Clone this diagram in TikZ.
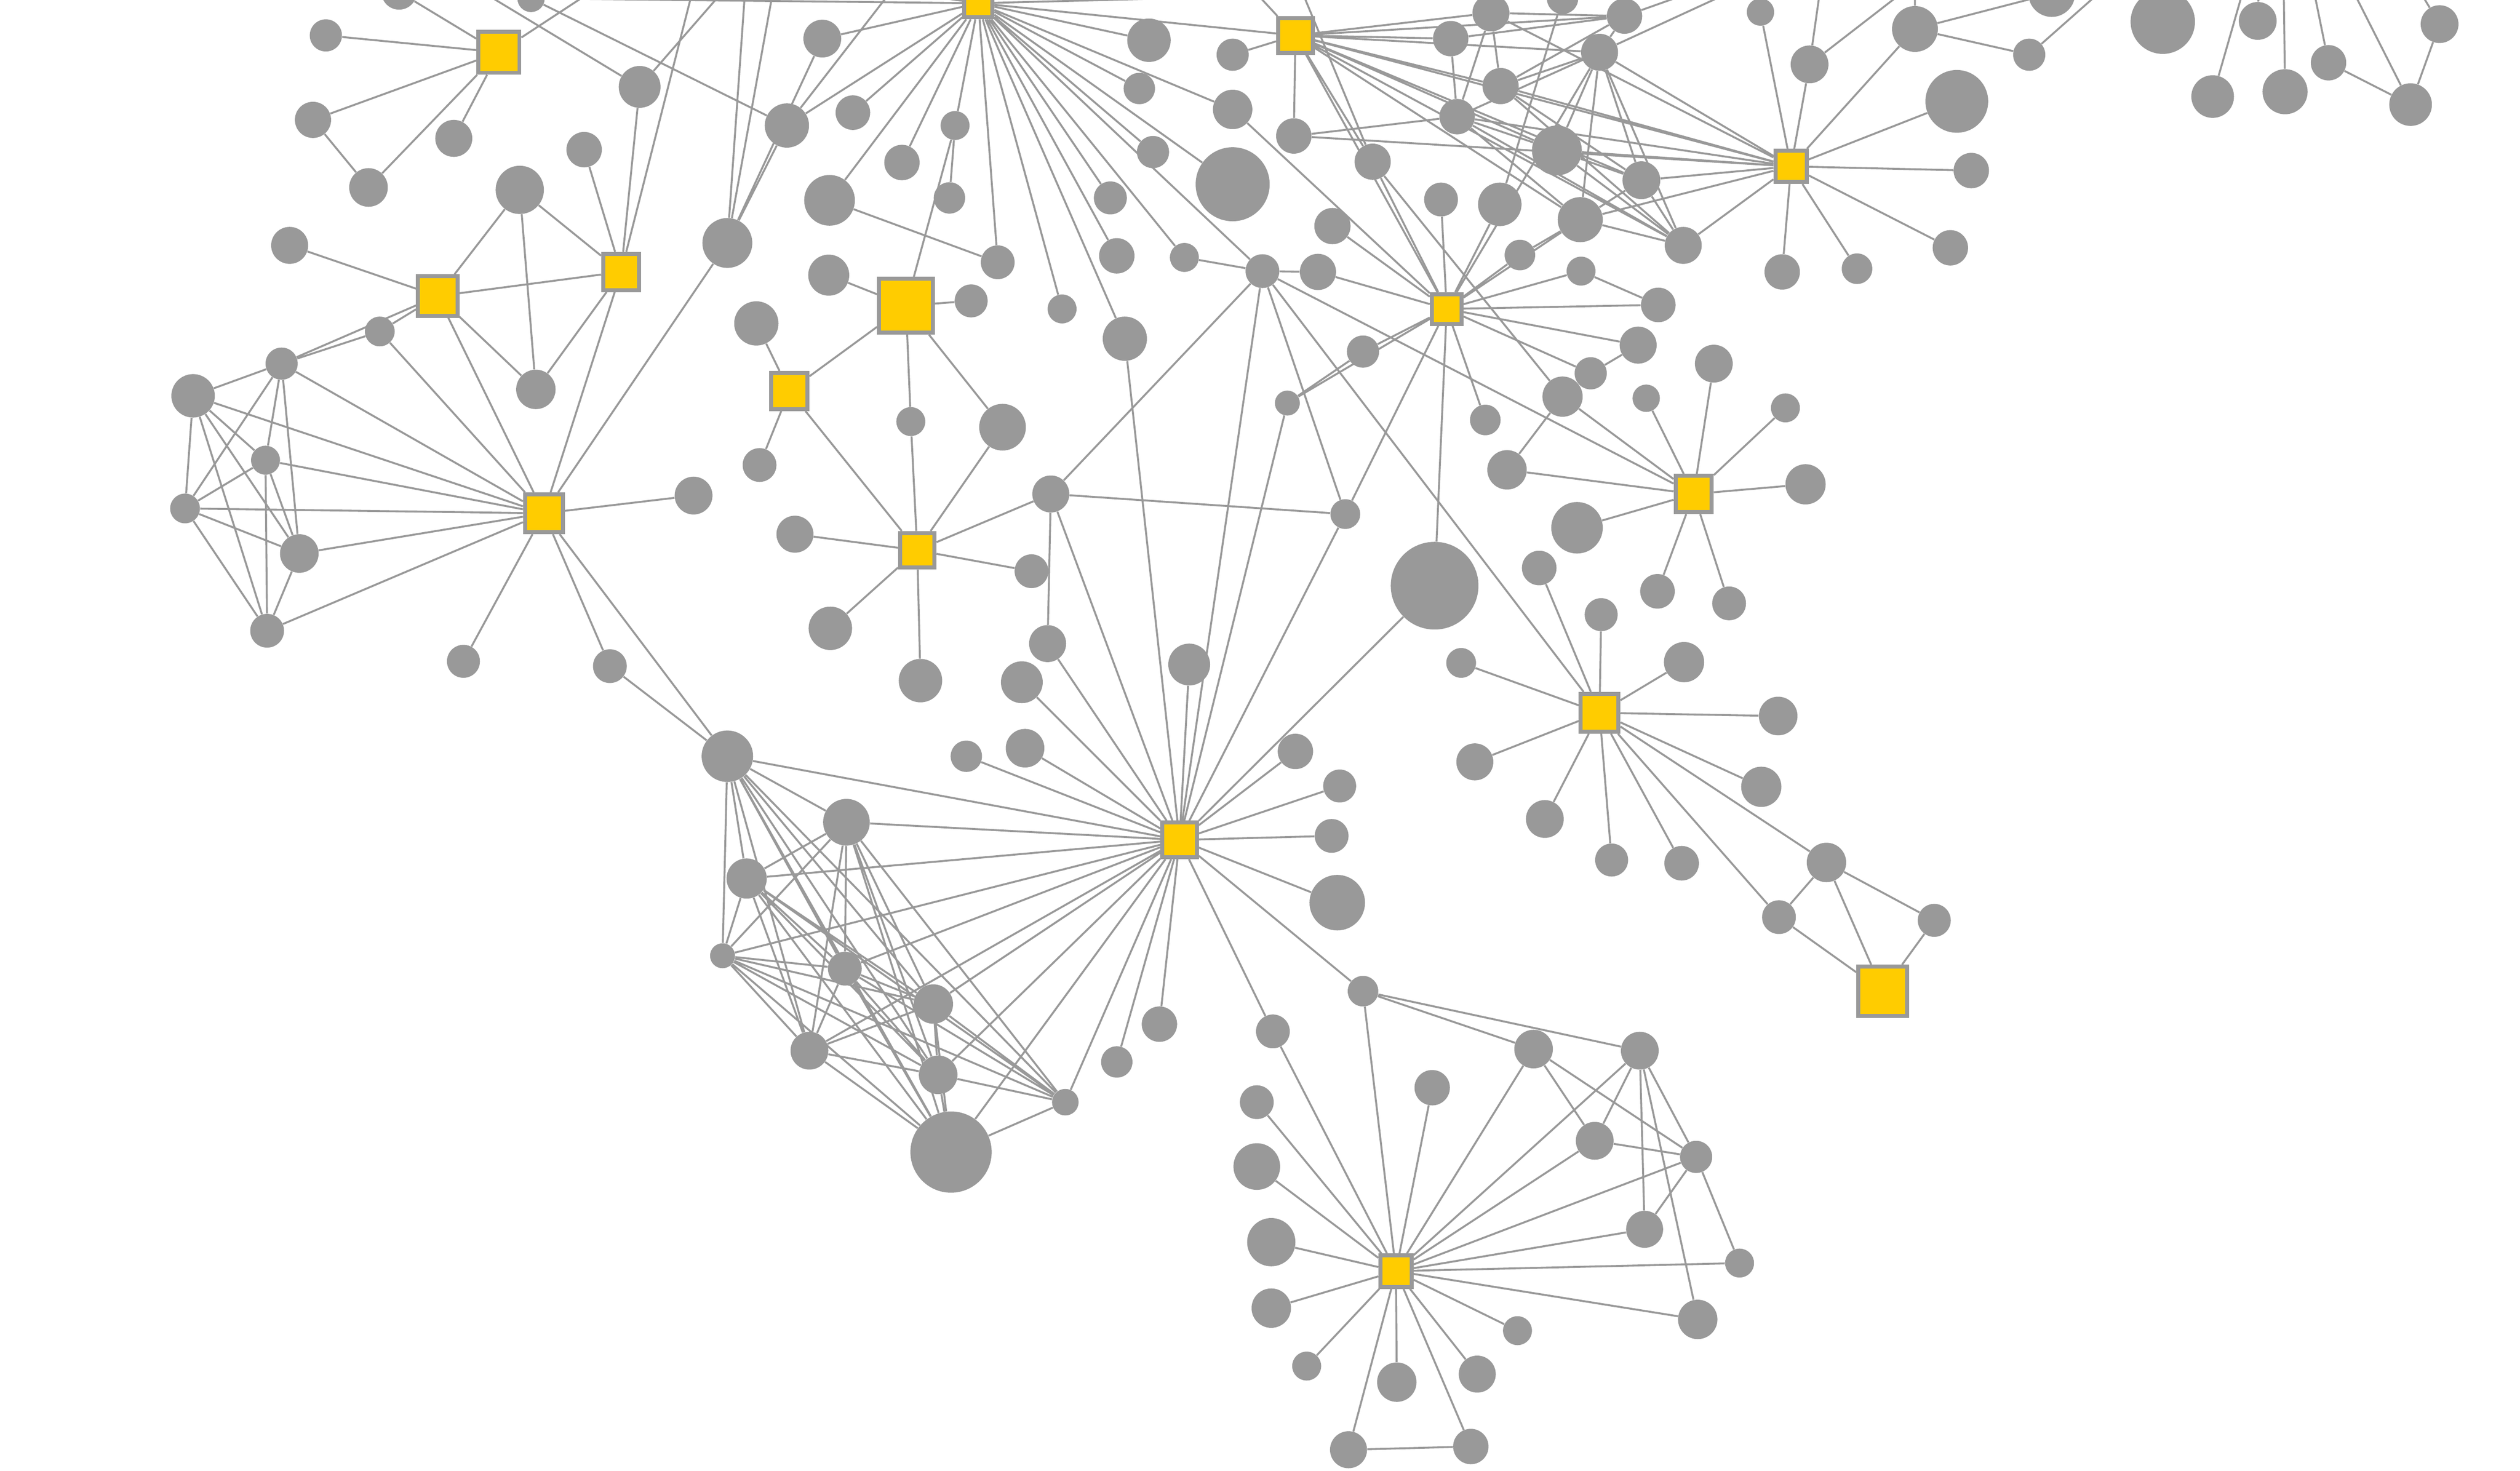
\documentclass[tikz,border=0pt]{standalone}
\usepackage{tikz}
\usetikzlibrary{shapes,positioning}
\definecolor{nodegray}{HTML}{999999}
\definecolor{hubyellow}{HTML}{FFCC00}
\pgfdeclarelayer{background}
\pgfsetlayers{background,main}
\tikzstyle{hub} = [rectangle, draw = nodegray, line width = 2.5pt, fill = hubyellow, inner sep = 0pt]
\tikzstyle{leaf} = [circle, fill = nodegray, inner sep = 0pt]
\tikzstyle{conn} = [draw = nodegray, line width = 1.2pt]
\begin{document}
\begin{tikzpicture}[x = 1pt, y = -1pt]
	
		\useasboundingbox (0,0) rectangle (1566,914);
		
		% Hubs
		\node[hub, minimum size = 25.5pt] (h1) at (310,32.5) {};
		\node[hub, minimum size = 17.5pt] (h2) at (608,2) {};
		\node[hub, minimum size = 21.5pt] (h3) at (805,22) {};
		\node[hub, minimum size = 19.5pt] (h4) at (1113,103.4) {};
		\node[hub, minimum size = 24.5pt] (h5) at (272,184) {};
		\node[hub, minimum size = 22.5pt] (h6) at (386,169) {};
		\node[hub, minimum size = 33.5pt] (h7) at (563,190) {};
		\node[hub, minimum size = 22.5pt] (h8) at (490.5,243) {};
		\node[hub, minimum size = 18.5pt] (h9) at (899,192) {};
		\node[hub, minimum size = 23.5pt] (h10) at (338,319) {};
		\node[hub, minimum size = 21.5pt] (h11) at (570,342) {};
		\node[hub, minimum size = 22.5pt] (h12) at (1052.5,307) {};
		\node[hub, minimum size = 23.5pt] (h13) at (994,443) {};
		\node[hub, minimum size = 21.5pt] (h14) at (733,522) {};
		\node[hub, minimum size = 30.5pt] (h15) at (1170,616) {};
		\node[hub, minimum size = 19.5pt] (h16) at (867.5,790) {};
		
		% Top left
		\node[leaf, minimum size = 22pt] (a1) at (248,-5) {};
		\node[leaf, minimum size = 20pt] (a2) at (202.5,22) {};
		\node[leaf, minimum size = 17pt] (a3) at (330,-1) {};
		\node[leaf, minimum size = 22.5pt] (a4) at (194.5,74.5) {};
		\node[leaf, minimum size = 23pt] (a5) at (282,86) {};
		\node[leaf, minimum size = 24pt] (a6) at (229,116.5) {};
		\node[leaf, minimum size = 26pt] (a7) at (397.5,54) {};
		\node[leaf, minimum size = 27.5pt] (a8) at (489,78) {};
		\node[leaf, minimum size = 23.5pt] (a9) at (511,24) {};
		\node[leaf, minimum size = 21.5pt] (a10) at (530,70) {};
		\node[leaf, minimum size = 22pt] (a11) at (363,93) {};
		\node[leaf, minimum size = 30pt] (a12) at (323,118) {};
		\node[leaf, minimum size = 23pt] (a13) at (180,152.5) {};
		\node[leaf, minimum size = 31pt] (a14) at (452,151) {};
		\node[leaf, minimum size = 18.5pt] (a15) at (236,206) {};
		\node[leaf, minimum size = 20pt] (a16) at (175,226) {};
		\node[leaf, minimum size = 27pt] (a17) at (120,246) {};
		\node[leaf, minimum size = 24.5pt] (a18) at (333,242) {};
		\node[leaf, minimum size = 18pt] (a19) at (165,286) {};
		\node[leaf, minimum size = 18.5pt] (a20) at (115,316) {};
		\node[leaf, minimum size = 24pt] (a21) at (186,344) {};
		\node[leaf, minimum size = 21pt] (a22) at (166,392) {};
		\node[leaf, minimum size = 23.5pt] (a23) at (431,308) {};
		\node[leaf, minimum size = 20.5pt] (a24) at (288,411) {};
		\node[leaf, minimum size = 21pt] (a25) at (379,414) {};
		
		% Top middle
		\node[leaf, minimum size = 27pt] (b1) at (714,25) {};
		\node[leaf, minimum size = 19.5pt] (b2) at (708,55) {};
		\node[leaf, minimum size = 20pt] (b3) at (766,34) {};
		\node[leaf, minimum size = 24.5pt] (b4) at (766,68) {};
		\node[leaf, minimum size = 18pt] (b5) at (593.5,78) {};
		\node[leaf, minimum size = 22pt] (b6) at (560.5,101) {};
		\node[leaf, minimum size = 20pt] (b7) at (716.5,94.5) {};
		\node[leaf, minimum size = 31.5pt] (b8) at (515.5,124.5) {};
		\node[leaf, minimum size = 19.5pt] (b9) at (590,123) {};
		\node[leaf, minimum size = 46pt] (b10) at (766,114.5) {};
		\node[leaf, minimum size = 20.5pt] (b11) at (690,123) {};
		\node[leaf, minimum size = 21pt] (b12) at (620,163) {};
		\node[leaf, minimum size = 22pt] (b13) at (694,159) {};
		\node[leaf, minimum size = 18pt] (b14) at (736,160) {};
		\node[leaf, minimum size = 25.5pt] (b15) at (515,171) {};
		\node[leaf, minimum size = 20.5pt] (b16) at (603.5,187) {};
		\node[leaf, minimum size = 18pt] (b17) at (660,192) {};
		\node[leaf, minimum size = 27.5pt] (b18) at (470,201) {};
		\node[leaf, minimum size = 27.5pt] (b19) at (699,210.5) {};
		\node[leaf, minimum size = 21pt] (b20) at (784.5,168.5) {};
		\node[leaf, minimum size = 21pt] (b21) at (472,289) {};
		\node[leaf, minimum size = 18pt] (b22) at (566,262) {};
		\node[leaf, minimum size = 29pt] (b23) at (623,265.5) {};
		\node[leaf, minimum size = 23pt] (b24) at (494,332) {};
		\node[leaf, minimum size = 27pt] (b25) at (516,390.5) {};
		\node[leaf, minimum size = 27pt] (b26) at (572,423) {};
		\node[leaf, minimum size = 21pt] (b27) at (641,355) {};
		\node[leaf, minimum size = 23pt] (b28) at (653,307) {};
		\node[leaf, minimum size = 23pt] (b29) at (651,400) {};
		\node[leaf, minimum size = 26pt] (b30) at (635,424) {};
		\node[leaf, minimum size = 26pt] (b31) at (739,413) {};
		\node[leaf, minimum size = 24pt] (b32) at (637,465) {};
		\node[leaf, minimum size = 19.5pt] (b33) at (600.5,470) {};
		
		% Top right
		\node[leaf, minimum size = 22.5pt] (c1) at (853,100.5) {};
		\node[leaf, minimum size = 22.5pt] (c2) at (828,140.5) {};
		\node[leaf, minimum size = 22.5pt] (c3) at (819,169) {};
		\node[leaf, minimum size = 21pt] (c4) at (895.5,124) {};
		\node[leaf, minimum size = 27pt] (c5) at (932,127) {};
		\node[leaf, minimum size = 22pt] (c6) at (804,84.5) {};
		\node[leaf, minimum size = 22pt] (c7) at (905.5,72.5) {};
		\node[leaf, minimum size = 22.5pt] (c8) at (932.5,53.5) {};
		\node[leaf, minimum size = 22pt] (c9) at (901.5,24) {};
		\node[leaf, minimum size = 23pt] (c10) at (926.5,8) {};
		\node[leaf, minimum size = 19.5pt] (c11) at (971,-1) {};
		\node[leaf, minimum size = 22pt] (c12) at (1009.5,10) {};
		\node[leaf, minimum size = 23pt] (c13) at (994,32.5) {};
		\node[leaf, minimum size = 31pt] (c14) at (967.5,93.5) {};
		\node[leaf, minimum size = 23.5pt] (c15) at (1020,112) {};
		\node[leaf, minimum size = 28pt] (c16) at (982,136.5) {};
		\node[leaf, minimum size = 23pt] (c17) at (1046,152.5) {};
		\node[leaf, minimum size = 19pt] (c18) at (944.5,158.5) {};
		\node[leaf, minimum size = 18pt] (c19) at (982.5,168.5) {};
		\node[leaf, minimum size = 21.5pt] (c20) at (1030.5,189.5) {};
		\node[leaf, minimum size = 23pt] (c21) at (1018,214.5) {};
		\node[leaf, minimum size = 20pt] (c22) at (988.5,232) {};
		\node[leaf, minimum size = 25pt] (c23) at (971,246.5) {};
		\node[leaf, minimum size = 17pt] (c24) at (1023,247.5) {};
		\node[leaf, minimum size = 20pt] (c25) at (847,218.5) {};
		\node[leaf, minimum size = 15.5pt] (c26) at (800,250.5) {};
		\node[leaf, minimum size = 19pt] (c27) at (923,261) {};
		\node[leaf, minimum size = 24.5pt] (c28) at (936.5,292) {};
		\node[leaf, minimum size = 18.5pt] (c29) at (836,319.5) {};
		\node[leaf, minimum size = 54.5pt] (c30) at (891.5,364) {};
		\node[leaf, minimum size = 32pt] (c31) at (980,328) {};
		\node[leaf, minimum size = 21.5pt] (c32) at (956.5,353) {};
		\node[leaf, minimum size = 21.5pt] (c33) at (1030,367.5) {};
		\node[leaf, minimum size = 21pt] (c34) at (1074.5,375) {};
		\node[leaf, minimum size = 23.5pt] (c35) at (1065,226) {};
		\node[leaf, minimum size = 18pt] (c36) at (1109.5,253.5) {};
		\node[leaf, minimum size = 25pt] (c37) at (1122,301) {};
		\node[leaf, minimum size = 23.5pt] (c38) at (1124.5,40) {};
		\node[leaf, minimum size = 17pt] (c39) at (1094,7.5) {};
		\node[leaf, minimum size = 28.5pt] (c40) at (1190,18) {};
		\node[leaf, minimum size = 20pt] (c41) at (1261,34) {};
		\node[leaf, minimum size = 39pt] (c42) at (1216,63) {};
		\node[leaf, minimum size = 22pt] (c43) at (1225,106) {};
		\node[leaf, minimum size = 22pt] (c44) at (1107.5,169) {};
		\node[leaf, minimum size = 19pt] (c45) at (1154,167) {};
		\node[leaf, minimum size = 22pt] (c46) at (1212,154) {};
		\node[leaf, minimum size = 29pt] (c47) at (1275,-4) {};
		\node[leaf, minimum size = 40pt] (c48) at (1344,13.5) {};
		\node[leaf, minimum size = 23.5pt] (c49) at (1403,13) {};
		\node[leaf, minimum size = 26.5pt] (c50) at (1375,60) {};
		\node[leaf, minimum size = 28pt] (c51) at (1420,57) {};
		\node[leaf, minimum size = 22pt] (c52) at (1447,39) {};
		\node[leaf, minimum size = 26.5pt] (c53) at (1498,65) {};
		\node[leaf, minimum size = 23.5pt] (c54) at (1516,15) {};
		
		% Middle right
		\node[leaf, minimum size = 20.5pt] (d1) at (995,382) {};
		\node[leaf, minimum size = 18.5pt] (d2) at (908,412) {};
		\node[leaf, minimum size = 25pt] (d3) at (1046.5,411.5) {};
		\node[leaf, minimum size = 24pt] (d4) at (1105,445) {};
		\node[leaf, minimum size = 23pt] (d5) at (916.5,473.5) {};
		\node[leaf, minimum size = 25pt] (d6) at (1094.5,489) {};
		\node[leaf, minimum size = 23.5pt] (d7) at (960,509) {};
		\node[leaf, minimum size = 20.5pt] (d8) at (1001.5,534.5) {};
		\node[leaf, minimum size = 21.5pt] (d9) at (1045,536.5) {};
		\node[leaf, minimum size = 24.5pt] (d10) at (1135,536) {};
		\node[leaf, minimum size = 21pt] (d11) at (1105.5,570) {};
		\node[leaf, minimum size = 20.5pt] (d12) at (1202,572) {};
		
		% Middle
		\node[leaf, minimum size = 22pt] (e1) at (805,467) {};
		\node[leaf, minimum size = 20.5pt] (e2) at (832.5,488.5) {};
		\node[leaf, minimum size = 21pt] (e3) at (827.5,519.5) {};
		\node[leaf, minimum size = 34.5pt] (e4) at (831,561) {};
		\node[leaf, minimum size = 19pt] (e5) at (847,616) {};
		\node[leaf, minimum size = 21pt] (e6) at (791,641) {};
		\node[leaf, minimum size = 22pt] (e7) at (720.5,636.5) {};
		\node[leaf, minimum size = 19.5pt] (e8) at (694,660) {};
		
		% Lower left cluster
		\node[leaf, minimum size = 32pt] (f1) at (452,470) {};
		\node[leaf, minimum size = 29pt] (f2) at (526,511) {};
		\node[leaf, minimum size = 25pt] (f3) at (464,546) {};
		\node[leaf, minimum size = 15.5pt] (f4) at (449,594) {};
		\node[leaf, minimum size = 21pt] (f5) at (525,602) {};
		\node[leaf, minimum size = 24.5pt] (f6) at (580,624) {};
		\node[leaf, minimum size = 23.5pt] (f7) at (503,653) {};
		\node[leaf, minimum size = 24pt] (f8) at (583,668) {};
		\node[leaf, minimum size = 16.5pt] (f9) at (662,685) {};
		\node[leaf, minimum size = 50.5pt] (f10) at (591,716) {};
		
		% Bottom
		\node[leaf, minimum size = 24pt] (g1) at (953,652) {};
		\node[leaf, minimum size = 23.5pt] (g2) at (1019,653) {};
		\node[leaf, minimum size = 23.5pt] (g3) at (991,709) {};
		\node[leaf, minimum size = 20pt] (g4) at (1054,719) {};
		\node[leaf, minimum size = 22pt] (g5) at (890,676) {};
		\node[leaf, minimum size = 21pt] (g6) at (781,685) {};
		\node[leaf, minimum size = 29pt] (g7) at (781,725) {};
		\node[leaf, minimum size = 30pt] (g8) at (790,772) {};
		\node[leaf, minimum size = 23pt] (g9) at (1022,764) {};
		\node[leaf, minimum size = 18pt] (g10) at (1081,785) {};
		\node[leaf, minimum size = 24.5pt] (g11) at (790,813) {};
		\node[leaf, minimum size = 24.5pt] (g12) at (1055,820) {};
		\node[leaf, minimum size = 18pt] (g13) at (812,849) {};
		\node[leaf, minimum size = 18pt] (g14) at (943,827) {};
		\node[leaf, minimum size = 24.5pt] (g15) at (868,859) {};
		\node[leaf, minimum size = 23pt] (g16) at (918,854) {};
		\node[leaf, minimum size = 23pt] (g17) at (838,901) {};
		\node[leaf, minimum size = 22pt] (g18) at (914,899) {};
		
		% Links leaving the top edge
		\coordinate (t1) at (390,-20);
		\coordinate (t2) at (275,-20);
		\coordinate (t3) at (462,-20);
		\coordinate (t4) at (434,-20);
		\coordinate (t5) at (464,-20);
		\coordinate (t6) at (483,-20);
		\coordinate (t7) at (565,-20);
		\coordinate (t8) at (540,-8);
		\coordinate (t9) at (1000,-8);
		\coordinate (t10) at (766,-20);
		\coordinate (t11) at (803,-20);
		\coordinate (t12) at (1108,-20);
		\coordinate (t13) at (1094,-20);
		\coordinate (t14) at (1133,-20);
		\coordinate (t15) at (1202,-20);
		\coordinate (t16) at (1094,-20);
		\coordinate (t17) at (1190,-25);
		\coordinate (t18) at (1322,-20);
		\coordinate (t19) at (1398,-20);
		\coordinate (t20) at (1419,-20);
		\coordinate (t21) at (1435,-20);
		\coordinate (t22) at (1455,-20);
		\coordinate (t23) at (1495,-20);
		\coordinate (t24) at (1404,-20);
		
		\begin{pgfonlayer}{background}
		\fill[white] (0,0) rectangle (1566,914);
		
		% Top left links
		\draw[conn] (h1) -- (a1) (h1) -- (a2) (h1) -- (a4) (h1) -- (a5) (h1) -- (a6) (h1) -- (t1) (a4) -- (a6)
		(a3) -- (h2) (a3) -- (a8) (a7) -- (h6) (a7) -- (t2) (a7) -- (t3)
		(h6) -- (a11) (h6) -- (a12) (h6) -- (h5) (h6) -- (a18) (h6) -- (h10) (h6) -- (t4)
		(h5) -- (a13) (h5) -- (a12) (h5) -- (a15) (h5) -- (a18) (h5) -- (h10) (h5) -- (a16)
		(a12) -- (a18) (a15) -- (a16) (a15) -- (h10);
		\draw[conn] (a17) -- (a16) (a17) -- (h10) (a17) -- (a20) (a17) -- (a19) (a17) -- (a21) (a17) -- (a22)
		(a16) -- (h10) (a16) -- (a20) (a16) -- (a19) (a16) -- (a21)
		(a19) -- (h10) (a19) -- (a20) (a19) -- (a22) (a19) -- (a21)
		(a20) -- (h10) (a20) -- (a21) (a20) -- (a22) (a21) -- (h10) (a21) -- (a22) (a22) -- (h10);
		\draw[conn] (h10) -- (a23) (h10) -- (a24) (h10) -- (a25) (h10) -- (f1) (h10) -- (a14) (a25) -- (f1)
		(a14) -- (t5) (a14) -- (t6) (a14) -- (a8) (a14) -- (a9)
		(a8) -- (h2) (a8) -- (t7) (a9) -- (h2) (a10) -- (h2);
		
		% Top middle links
		\draw[conn] (h2) -- (b5) (h2) -- (b6) (h2) -- (b8) (h2) -- (b12) (h2) -- (b17) (h2) -- (b19) (h2) -- (b13)
		(h2) -- (b11) (h2) -- (b14) (h2) -- (b7) (h2) -- (b20) (h2) -- (b2) (h2) -- (b4) (h2) -- (b10)
		(h2) -- (b1) (h2) -- (h3) (h2) -- (t8) (h2) -- (t9)
		(b5) -- (b9) (b5) -- (h7) (b8) -- (b12) (b3) -- (h3) (b14) -- (b20)
		(h7) -- (b15) (h7) -- (b16) (h7) -- (h8) (h7) -- (b22) (h7) -- (b23)
		(h8) -- (b18) (h8) -- (b21) (h8) -- (h11)
		(h11) -- (b22) (h11) -- (b23) (h11) -- (b28) (h11) -- (b24) (h11) -- (b25) (h11) -- (b26) (h11) -- (b27)
		(b28) -- (b20) (b28) -- (c29) (b28) -- (b29) (b28) -- (h14) (b19) -- (h14);
		\draw[conn] (h14) -- (b20) (h14) -- (b29) (h14) -- (b30) (h14) -- (b31) (h14) -- (b32) (h14) -- (b33)
		(h14) -- (c26) (h14) -- (c29) (h14) -- (c30) (h14) -- (e1) (h14) -- (e2) (h14) -- (e3) (h14) -- (e4)
		(h14) -- (e5) (h14) -- (e6) (h14) -- (e7) (h14) -- (e8);
		
		% Lower left cluster links
		\draw[conn] (h14) -- (f1) (h14) -- (f2) (h14) -- (f3) (h14) -- (f4) (h14) -- (f5) (h14) -- (f6) (h14) -- (f7)
		(h14) -- (f8) (h14) -- (f9) (h14) -- (f10)
		(f1) -- (f2) (f1) -- (f3) (f1) -- (f4) (f1) -- (f5) (f1) -- (f6) (f1) -- (f7) (f1) -- (f8) (f1) -- (f9) (f1) -- (f10)
		(f2) -- (f3) (f2) -- (f4) (f2) -- (f5) (f2) -- (f7) (f2) -- (f8) (f2) -- (f6) (f2) -- (f10) (f2) -- (f9)
		(f3) -- (f4) (f3) -- (f7) (f3) -- (f6) (f3) -- (f5) (f3) -- (f8) (f3) -- (f10) (f3) -- (f9)
		(f4) -- (f5) (f4) -- (f6) (f4) -- (f7) (f4) -- (f8) (f4) -- (f10) (f4) -- (f9)
		(f5) -- (f7) (f5) -- (f6) (f5) -- (f8) (f5) -- (f9) (f5) -- (f10)
		(f6) -- (f7) (f6) -- (f8) (f6) -- (f9) (f6) -- (f10)
		(f7) -- (f8) (f7) -- (f10) (f8) -- (f9) (f8) -- (f10) (f9) -- (f10);
		
		% Top right links
		\draw[conn] (h3) -- (c6) (h3) -- (c9) (h3) -- (c10) (h3) -- (c12) (h3) -- (c13) (h3) -- (c8) (h3) -- (c14)
		(h3) -- (c15) (h3) -- (h4) (h3) -- (c16) (h3) -- (c17) (h3) -- (c1) (h3) -- (h9) (h3) -- (t10)
		(c9) -- (c12) (c9) -- (c7) (c10) -- (c7) (c10) -- (c8) (c10) -- (c12) (c10) -- (h4) (c11) -- (c5)
		(c12) -- (c8) (c12) -- (c13) (c12) -- (t13) (c13) -- (t12)
		(c13) -- (c8) (c13) -- (c7) (c13) -- (c14) (c13) -- (c16) (c13) -- (c15) (c13) -- (c17) (c13) -- (h4)
		(c8) -- (h4) (c8) -- (c15) (c8) -- (c17)
		(c7) -- (c14) (c7) -- (c16) (c7) -- (c17) (c7) -- (c6) (c7) -- (h4) (c6) -- (h4)
		(c14) -- (h4) (c14) -- (c15) (c14) -- (c17) (c15) -- (h4) (c15) -- (c16) (c15) -- (c17)
		(c16) -- (h4) (c16) -- (c17) (c17) -- (h4);
		\draw[conn] (c1) -- (h9) (c1) -- (c23) (c1) -- (t11)
		(h9) -- (c4) (h9) -- (c5) (h9) -- (c2) (h9) -- (c3) (h9) -- (b4) (h9) -- (c18) (h9) -- (c19) (h9) -- (c20)
		(h9) -- (c21) (h9) -- (c22) (h9) -- (c25) (h9) -- (c26) (h9) -- (c29) (h9) -- (c30) (h9) -- (c27)
		(h9) -- (c13) (h9) -- (c16) (b20) -- (c3) (c18) -- (c16)
		(c19) -- (c20) (c21) -- (c22) (c25) -- (c26)
		(c23) -- (c28) (c23) -- (h12) (b20) -- (h12) (b20) -- (h13) (b20) -- (c29) (c28) -- (h12)
		(h12) -- (c35) (h12) -- (c24) (h12) -- (c36) (h12) -- (c37) (h12) -- (c31) (h12) -- (c33) (h12) -- (c34);
		\draw[conn] (h4) -- (c39) (h4) -- (c38) (h4) -- (c44) (h4) -- (c45) (h4) -- (c46) (h4) -- (c43) (h4) -- (c42) (h4) -- (c40)
		(c38) -- (t14) (c38) -- (t15) (c39) -- (t16)
		(c40) -- (c41) (c40) -- (c47) (c40) -- (t17) (c41) -- (t18)
		(c50) -- (t19) (c51) -- (t20) (c52) -- (t21) (c52) -- (c53) (c53) -- (t22) (c53) -- (c54) (c54) -- (t23) (c49) -- (t24);
		
		% Middle right links
		\draw[conn] (c32) -- (h13) (h13) -- (d1) (h13) -- (d2) (h13) -- (d3) (h13) -- (d4) (h13) -- (d5) (h13) -- (d6)
		(h13) -- (d7) (h13) -- (d8) (h13) -- (d9) (h13) -- (d10) (h13) -- (d11)
		(d10) -- (d11) (d10) -- (d12) (d10) -- (h15) (d11) -- (h15) (d12) -- (h15);
		
		% Bottom links
		\draw[conn] (h16) -- (e5) (h16) -- (e6) (h16) -- (g1) (h16) -- (g2) (h16) -- (g3) (h16) -- (g4) (h16) -- (g5)
		(h16) -- (g6) (h16) -- (g7) (h16) -- (g8) (h16) -- (g9) (h16) -- (g10) (h16) -- (g11) (h16) -- (g12)
		(h16) -- (g13) (h16) -- (g14) (h16) -- (g15) (h16) -- (g16) (h16) -- (g17) (h16) -- (g18)
		(e5) -- (g1) (e5) -- (g2) (g1) -- (g3) (g1) -- (g4) (g2) -- (g3) (g2) -- (g4) (g2) -- (g9) (g2) -- (g12)
		(g3) -- (g4) (g4) -- (g9) (g4) -- (g10) (g17) -- (g18);
		\end{pgfonlayer}
		
	\end{tikzpicture}
\end{document}
